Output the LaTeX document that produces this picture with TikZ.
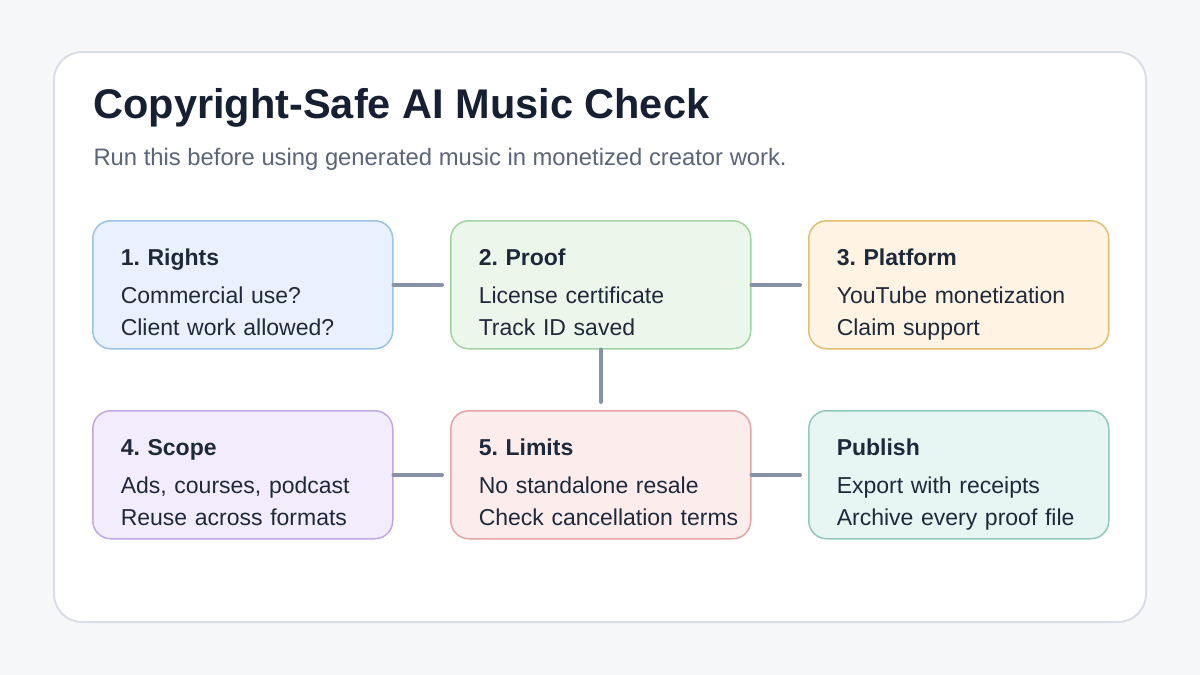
\documentclass[tikz,border=0pt]{standalone}
\usepackage{fontspec}
\setmainfont{Liberation Sans}
\usetikzlibrary{positioning, arrows.meta}

\definecolor{pagebg}{HTML}{F6F7F9}
\definecolor{cardline}{HTML}{D9DDE5}
\definecolor{ink}{HTML}{172033}
\definecolor{bodyink}{HTML}{1E293B}
\definecolor{subgray}{HTML}{5B6478}
\definecolor{linkgray}{HTML}{8791A8}
\definecolor{blueF}{HTML}{E8F1FD}\definecolor{blueD}{HTML}{9CC2E6}
\definecolor{greenF}{HTML}{EBF7EA}\definecolor{greenD}{HTML}{A3D3A0}
\definecolor{orangeF}{HTML}{FFF4E4}\definecolor{orangeD}{HTML}{E2C072}
\definecolor{purpleF}{HTML}{F3ECFD}\definecolor{purpleD}{HTML}{C3A8E6}
\definecolor{redF}{HTML}{FDECEC}\definecolor{redD}{HTML}{E3A5A5}
\definecolor{tealF}{HTML}{E7F6F3}\definecolor{tealD}{HTML}{8FCABD}

\frenchspacing
\newcommand{\checktext}[3]{\rule{0pt}{36pt}\mbox{\textbf{#1}}\\[6pt]\mbox{#2}\\\mbox{#3}\rule[-5pt]{0pt}{5pt}}

\begin{document}
\begin{tikzpicture}[
    x=1pt, y=-1pt,
    checkbox/.style={
      draw, line width=1.5pt, rounded corners=18pt, anchor=north west,
      minimum width=300pt, minimum height=128pt, text width=244pt,
      inner sep=0pt, align=left, text=bodyink,
      font=\fontsize{23}{32}\selectfont
    },
    link/.style={draw=linkgray, line width=4pt, line cap=round, shorten >=8pt},
  ]
    \useasboundingbox[fill=pagebg] (0,0) rectangle (1200,675);
    \draw[fill=white, draw=cardline, line width=2pt, rounded corners=28pt]
      (54,52) rectangle (1146,622);

    \node[anchor=base west, text=ink, font=\fontsize{41.5}{50}\selectfont\bfseries]
      (title) at (90,118) {Copyright-Safe AI Music Check};
    \node[anchor=base west, text=subgray, font=\fontsize{23.8}{30}\selectfont]
      (subtitle) at (90,165) {Run this before using generated music in monetized creator work.};

    \node[checkbox, fill=blueF, draw=blueD] (rights) at (92,220)
      {\checktext{1. Rights}{Commercial use?}{Client work allowed?}};
    \node[checkbox, fill=greenF, draw=greenD] (proof) at (450,220)
      {\checktext{2. Proof}{License certificate}{Track ID saved}};
    \node[checkbox, fill=orangeF, draw=orangeD] (platform) at (808,220)
      {\checktext{3. Platform}{YouTube monetization}{Claim support}};

    \node[checkbox, fill=purpleF, draw=purpleD] (scope) at (92,410)
      {\checktext{4. Scope}{Ads, courses, podcast}{Reuse across formats}};
    \node[checkbox, fill=redF, draw=redD] (limits) at (450,410)
      {\checktext{5. Limits}{No standalone resale}{Check cancellation terms}};
    \node[checkbox, fill=tealF, draw=tealD] (publish) at (808,410)
      {\checktext{Publish}{Export with receipts}{Archive every proof file}};

    \draw[link] (rights) -- (proof);
    \draw[link] (proof) -- (platform);
    \draw[link] (proof) -- (limits);
    \draw[link] (scope) -- (limits);
    \draw[link] (limits) -- (publish);
  \end{tikzpicture}
\end{document}
